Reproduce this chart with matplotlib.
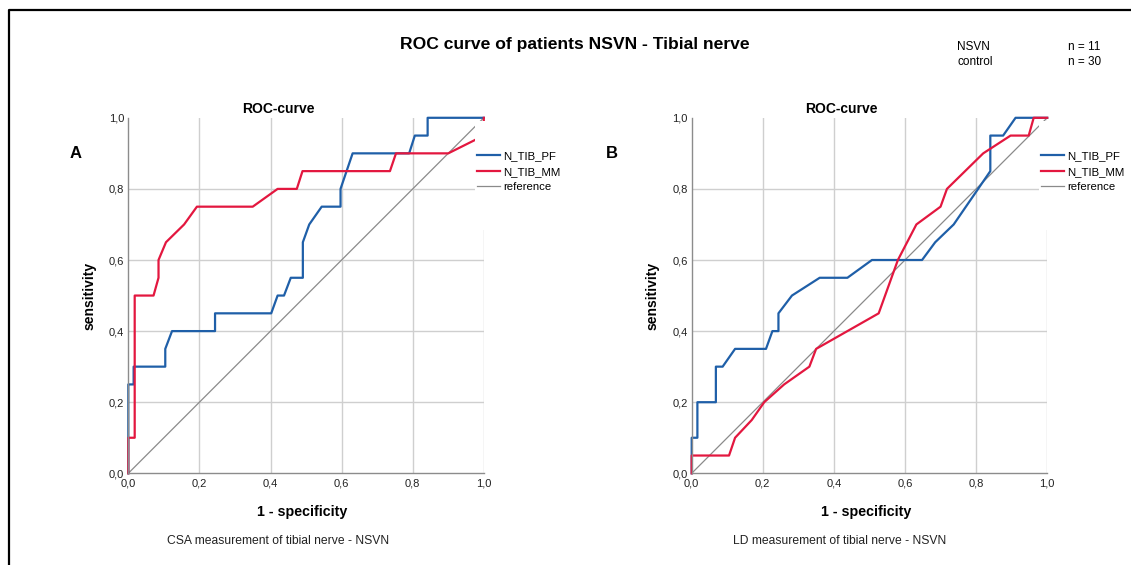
import matplotlib
matplotlib.use("Agg")
import matplotlib.pyplot as plt
from matplotlib.lines import Line2D
from matplotlib.patches import Rectangle

plt.rcParams['font.family'] = ['Liberation Sans', 'DejaVu Sans']

# ---------------- data ----------------
main_title = "ROC curve of patients NSVN - Tibial nerve"
group_names = ["NSVN", "control"]
group_counts = ["n = 11", "n = 30"]
panel_letters = ["A", "B"]
captions = ["CSA measurement of tibial nerve - NSVN", "LD measurement of tibial nerve - NSVN"]
series_names = ["N_TIB_PF", "N_TIB_MM", "reference"]
tick_values = [0.0, 0.2, 0.4, 0.6, 0.8, 1.0]
tick_labels = ["0,0", "0,2", "0,4", "0,6", "0,8", "1,0"]

# Panel A (CSA)
a_pf_fpr = [0, 0, 0.015, 0.015, 0.104, 0.104, 0.123, 0.244, 0.244, 0.402, 0.42, 0.438, 0.457,
            0.491, 0.491, 0.509, 0.544, 0.597, 0.597, 0.631, 0.79, 0.806, 0.842, 0.842, 1.0]
a_pf_tpr = [0, 0.25, 0.25, 0.30, 0.30, 0.35, 0.40, 0.40, 0.45, 0.45, 0.50, 0.50, 0.55,
            0.55, 0.65, 0.70, 0.75, 0.75, 0.80, 0.90, 0.90, 0.95, 0.95, 1.0, 1.0]
a_mm_fpr = [0, 0, 0.018, 0.018, 0.071, 0.085, 0.085, 0.106, 0.157, 0.193, 0.35, 0.42, 0.474,
            0.49, 0.736, 0.753, 0.90, 1.0, 1.0]
a_mm_tpr = [0, 0.10, 0.10, 0.50, 0.50, 0.55, 0.60, 0.65, 0.70, 0.75, 0.75, 0.80, 0.80,
            0.85, 0.85, 0.90, 0.90, 0.95, 1.0]

# Panel B (LD)
b_pf_fpr = [0, 0, 0.016, 0.016, 0.068, 0.068, 0.087, 0.122, 0.209, 0.227, 0.244, 0.244, 0.282,
            0.36, 0.438, 0.507, 0.648, 0.685, 0.737, 0.84, 0.84, 0.876, 0.911, 1.0]
b_pf_tpr = [0, 0.10, 0.10, 0.20, 0.20, 0.30, 0.30, 0.35, 0.35, 0.40, 0.40, 0.45, 0.50,
            0.55, 0.55, 0.60, 0.60, 0.65, 0.70, 0.85, 0.95, 0.95, 1.0, 1.0]
b_mm_fpr = [0, 0, 0.105, 0.122, 0.169, 0.204, 0.26, 0.331, 0.35, 0.526, 0.58, 0.632, 0.70,
            0.718, 0.82, 0.897, 0.948, 0.962, 1.0]
b_mm_tpr = [0, 0.05, 0.05, 0.10, 0.15, 0.20, 0.25, 0.30, 0.35, 0.45, 0.60, 0.70, 0.75,
            0.80, 0.90, 0.95, 0.95, 1.0, 1.0]

ref_line = [0.0, 1.0]

# ---------------- style ----------------
BLUE = "#1f5fa8"
RED = "#e3173f"
GRAY_REF = "#8a8a8a"
GRID = "#cfcfcf"
SPINE = "#8c8c8c"

W, H = 1131, 565
fig = plt.figure(figsize=(W / 100, H / 100), dpi=100)
fig.patch.set_facecolor("white")


def fx(px):
    return px / W


def fy(py):
    return 1 - py / H


panels = [
    dict(left=128.3, fpr_pf=a_pf_fpr, tpr_pf=a_pf_tpr, fpr_mm=a_mm_fpr, tpr_mm=a_mm_tpr,
         letter_x=76, caption_x=278, title_x=278),
    dict(left=691.7, fpr_pf=b_pf_fpr, tpr_pf=b_pf_tpr, fpr_mm=b_mm_fpr, tpr_mm=b_mm_tpr,
         letter_x=612, caption_x=840, title_x=841),
]

AX_W, AX_H = 355.5, 355.5
AX_BOTTOM = 473.3

for i, p in enumerate(panels):
    ax = fig.add_axes([fx(p["left"]), fy(AX_BOTTOM), AX_W / W, AX_H / H])
    ax.set_xlim(0, 1)
    ax.set_ylim(0, 1)
    ax.set_facecolor("white")

    # grid
    for v in tick_values[1:]:
        ax.axvline(v, color=GRID, lw=1.0, zorder=0)
    for v in tick_values[1:-1]:
        ax.axhline(v, color=GRID, lw=1.0, zorder=0)

    for s in ["top", "right"]:
        ax.spines[s].set_visible(False)
    for s in ["left", "bottom"]:
        ax.spines[s].set_color(SPINE)
        ax.spines[s].set_linewidth(1.0)

    ax.set_xticks(tick_values)
    ax.set_xticklabels(tick_labels)
    ax.set_yticks(tick_values)
    ax.set_yticklabels(tick_labels)
    ax.tick_params(axis="both", length=0, labelsize=8, colors="#222222")
    ax.tick_params(axis="x", pad=3.5)
    ax.tick_params(axis="y", pad=3)

    l_ref, = ax.plot(ref_line, ref_line, color=GRAY_REF, lw=0.9, zorder=1, clip_on=False)
    l_pf, = ax.plot(p["fpr_pf"], p["tpr_pf"], color=BLUE, lw=1.6, zorder=2, clip_on=False)
    l_mm, = ax.plot(p["fpr_mm"], p["tpr_mm"], color=RED, lw=1.6, zorder=2, clip_on=False)

    # white legend area covering the top-right corner
    ax.add_patch(Rectangle((0.976, 0.684), 0.30, 0.306, transform=ax.transAxes,
                           facecolor="white", edgecolor="none", zorder=3, clip_on=False))
    leg = ax.legend([l_pf, l_mm, l_ref], series_names, loc="upper left",
                    bbox_to_anchor=(0.982, 0.906), frameon=False, fontsize=8.2,
                    handlelength=2.0, handletextpad=0.3, labelspacing=0.48,
                    borderpad=0, borderaxespad=0)
    leg.set_zorder(4)

    ax.set_title("ROC-curve", fontsize=10, fontweight="bold",
                 x=(p["title_x"] - p["left"]) / AX_W, pad=3.5)
    ax.set_xlabel("1 - specificity", fontsize=10.3, fontweight="bold")
    ax.xaxis.set_label_coords(0.49, -0.09)
    ax.set_ylabel("sensitivity", fontsize=10, fontweight="bold")
    ax.yaxis.set_label_coords(-0.09, 0.5)

    fig.text(fx(p["letter_x"]), fy(153), panel_letters[i], fontsize=12, fontweight="bold",
             ha="center", va="center")
    fig.text(fx(p["caption_x"]), fy(541), captions[i], fontsize=8.7, ha="center",
             va="center", color="#222222")

fig.text(fx(575), fy(45), main_title, fontsize=12.6, fontweight="bold", ha="center",
         va="center")
for j, (g, n) in enumerate(zip(group_names, group_counts)):
    yy = 47 + j * 15
    fig.text(fx(957), fy(yy), g, fontsize=8.5, ha="left", va="center")
    fig.text(fx(1068), fy(yy), n, fontsize=8.5, ha="left", va="center")

# outer black frame (top and left edges)
fig.add_artist(Line2D([fx(8.5), fx(8.5), fx(W)], [fy(H), fy(10), fy(10)],
                      transform=fig.transFigure, color="black", lw=1.6))

fig.savefig("out.png", dpi=100)
